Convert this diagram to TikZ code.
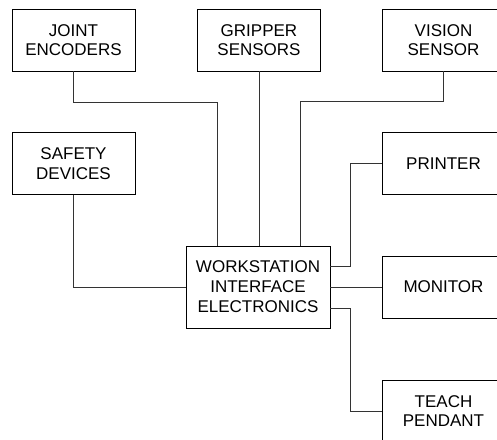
\documentclass[tikz,border=0pt]{standalone}
\usepackage{fontspec}
\setmainfont{Liberation Sans}
\usepackage{tikz}
\usetikzlibrary{calc,positioning}
\tikzset{
  box/.style={draw=black,line width=0.9pt,align=center,inner sep=3pt,
    minimum width=123pt,minimum height=62pt,
    font=\fontsize{17}{19.5}\selectfont},
  wire/.style={line width=0.9pt,black!80}
}

\begin{document}
\begin{tikzpicture}[x=1pt,y=-1pt]
\useasboundingbox (0,0) rectangle (497,439);
\clip (0,0) rectangle (497,439);
% inputs
\node[box] (joint) at (73.5,40) {JOINT\\ENCODERS};
\node[box] (grip) at (259,40) {GRIPPER\\SENSORS};
\node[box] (vis) at (443.5,40) {VISION\\SENSOR};
\node[box] (safe) at (73.5,163.5) {SAFETY\\DEVICES};
% interface
\node[box,minimum width=144pt,minimum height=82pt,font=\fontsize{17}{20}\selectfont] (wie) at (258,287) {WORKSTATION\\INTERFACE\\ELECTRONICS};
% outputs
\node[box] (prn) at (443.5,163.5) {PRINTER};
\node[box] (mon) at (443.5,287) {MONITOR};
\node[box] (tp) at (443.5,411) {TEACH\\PENDANT};
% wiring
\draw[wire] (joint.south) -- ++(0,31) -| ([xshift=-41pt]wie.north);
\draw[wire] (grip.south) -- (grip.south |- wie.north);
\draw[wire] (vis.south) -- ++(0,30) -| ([xshift=42pt]wie.north);
\draw[wire] (safe.south) |- (wie.west);
\draw[wire] (prn.west) -- ++(-31,0) |- ([yshift=21pt]wie.east);
\draw[wire] (wie.east) -- (mon.west);
\draw[wire] (tp.west) -- ++(-31,0) |- ([yshift=-21pt]wie.east);
\end{tikzpicture}
\end{document}
